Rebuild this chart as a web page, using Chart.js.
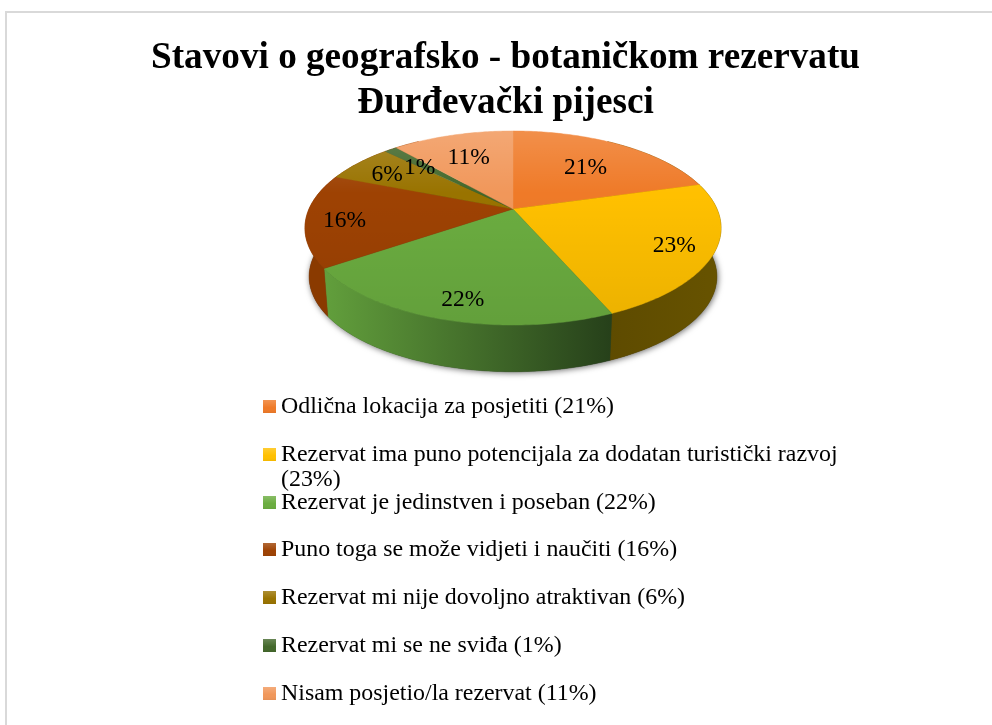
<!DOCTYPE html>
<html><head><meta charset="utf-8">
<script src="https://cdn.jsdelivr.net/npm/chart.js@4"></script>
<style>
html,body{margin:0;padding:0;background:#fff;overflow:hidden}
#wrap{position:absolute;left:0;top:0;width:992px;height:725px}
#frame{position:absolute;left:5px;top:11px;right:0;bottom:0;border-left:2px solid #d9d9d9;border-top:2px solid #d9d9d9}
canvas{position:absolute;left:0;top:0}
</style></head><body>
<div id="wrap"><div id="frame"></div><canvas id="c" width="992" height="725"></canvas></div>
<script>
const titleLines = ['Stavovi o geografsko - botaničkom rezervatu', 'Đurđevački pijesci'];
const categories = ['Odlična lokacija za posjetiti','Rezervat ima puno potencijala za dodatan turistički razvoj','Rezervat je jedinstven i poseban','Puno toga se može vidjeti i naučiti','Rezervat mi nije dovoljno atraktivan','Rezervat mi se ne sviđa','Nisam posjetio/la rezervat'];
const values = [20.6,22.9,21.9,15.6,6.4,1.2,11.4];
const sliceColors = ['#EF7A28','#FFC000','#6BAD40','#9E4203','#997300','#43682B','#F1975A'];
const wallLeft  = ['#6b5500','#5e4b00','#629f3c','#8a3a00','#8a3a00','#8a3a00','#8a3a00'];
const wallRight = ['#6b5500','#675300','#26401a','#8a3a00','#8a3a00','#8a3a00','#8a3a00'];
const labelRadius = [0.65,0.82,0.84,0.83,0.8,0.74,0.7];
const labelNudgeX = [0,-1,6,3,0,0,0];
const labelNudgeY = [3,2,1,3,3,4,3];

const FONT = '"Liberation Serif","Times New Roman",serif';
const P = {cx:513, cy:209, a:204, b:93.3, p:0.196, cy2:258, k:0.98};
const proj = (r,ang,bottom) => {
  const u=r*Math.cos(ang), v=r*Math.sin(ang), d=1-P.p*v, s=bottom?P.k:1;
  return [P.cx+s*P.a*u/d, (bottom?P.cy2:P.cy)+s*P.b*v/d];
};
const rim = (a0,a1,bottom) => {
  const n=Math.max(2,Math.ceil(Math.abs(a1-a0)/0.015)), out=[];
  for(let i=0;i<=n;i++) out.push(proj(1,a0+(a1-a0)*i/n,bottom));
  return out;
};
const trace = (ctx,pts,first) => pts.forEach((q,i)=> (i===0&&first)?ctx.moveTo(q[0],q[1]):ctx.lineTo(q[0],q[1]));

const pie3d = {
  id:'pie3d',
  beforeDatasetDraw(chart,args){
    const ctx=chart.ctx, arcs=chart.getDatasetMeta(args.index).data;
    ctx.save();
    // shadow
    ctx.save();
    ctx.shadowColor='rgba(0,0,0,0.6)'; ctx.shadowBlur=6; ctx.shadowOffsetX=1; ctx.shadowOffsetY=1;
    ctx.fillStyle='#333';
    ctx.beginPath(); trace(ctx,rim(0,Math.PI*2,true),true); ctx.closePath(); ctx.fill();
    ctx.restore();
    // outer walls
    const visA=-1, visB=Math.PI+1;
    arcs.forEach((el,i)=>{
      const s=Math.max(el.startAngle,visA), e=Math.min(el.endAngle,visB);
      if(e<=s) return;
      const top=rim(s,e,false), bot=rim(e,s,true);
      const xs=top.concat(bot).map(q=>q[0]);
      const g=ctx.createLinearGradient(Math.min(...xs),0,Math.max(...xs),0);
      g.addColorStop(0,wallLeft[i]); g.addColorStop(1,wallRight[i]);
      ctx.fillStyle=g; ctx.strokeStyle=g; ctx.lineWidth=0.5;
      ctx.beginPath(); trace(ctx,top,true); trace(ctx,bot,false); ctx.closePath(); ctx.fill(); ctx.stroke();
    });
    // top face
    arcs.forEach(el=>{
      ctx.fillStyle=el.options.backgroundColor; ctx.strokeStyle=el.options.backgroundColor; ctx.lineWidth=0.4;
      ctx.beginPath(); ctx.moveTo(P.cx,P.cy); trace(ctx,rim(el.startAngle,el.endAngle,false),false); ctx.closePath(); ctx.fill(); ctx.stroke();
    });
    // light falling on the top face
    const sh=ctx.createLinearGradient(0,131,0,325);
    sh.addColorStop(0,'rgba(255,255,255,0.16)');
    sh.addColorStop(0.32,'rgba(255,255,255,0)');
    sh.addColorStop(0.33,'rgba(0,0,0,0)');
    sh.addColorStop(1,'rgba(0,0,0,0.08)');
    ctx.fillStyle=sh;
    ctx.beginPath(); trace(ctx,rim(0,Math.PI*2,false),true); ctx.closePath(); ctx.fill();
    // percent labels
    ctx.fillStyle='#000'; ctx.font='23.5px '+FONT; ctx.textAlign='center'; ctx.textBaseline='middle';
    arcs.forEach((el,i)=>{
      const mid=(el.startAngle+el.endAngle)/2, q=proj(labelRadius[i],mid,false);
      ctx.fillText(Math.round(values[i])+'%',q[0]+labelNudgeX[i],q[1]+labelNudgeY[i]);
    });
    ctx.restore();
    return false;
  }
};
const legend = {
  id:'rowLegend',
  afterDraw(chart){
    const ctx=chart.ctx, x0=263, tx=281, firstBase=413, pitch=47.8, lh=25, maxW=570;
    ctx.save();
    ctx.font='23.9px '+FONT; ctx.textAlign='left'; ctx.textBaseline='alphabetic';
    categories.forEach((c,i)=>{
      const base=firstBase+pitch*i, words=(c+' ('+Math.round(values[i])+'%)').split(' ');
      const sy=Math.round(base)-13;
      ctx.fillStyle=sliceColors[i];
      ctx.fillRect(x0,sy,13,13);
      const sh=ctx.createLinearGradient(0,sy,0,sy+13);
      sh.addColorStop(0,'rgba(255,255,255,0.2)'); sh.addColorStop(0.6,'rgba(255,255,255,0)'); sh.addColorStop(1,'rgba(0,0,0,0.05)');
      ctx.fillStyle=sh; ctx.fillRect(x0,sy,13,13);
      ctx.fillStyle='#000';
      let line='', y=base;
      words.forEach(w=>{
        const t=line?line+' '+w:w;
        if(ctx.measureText(t).width>maxW&&line){ctx.fillText(line,tx,y); y+=lh; line=w;} else line=t;
      });
      ctx.fillText(line,tx,y);
    });
    ctx.restore();
  }
};
new Chart(document.getElementById('c'),{
  type:'pie',
  data:{labels:categories,datasets:[{data:values,backgroundColor:sliceColors,borderWidth:0}]},
  plugins:[pie3d,legend],
  options:{
    responsive:false,animation:false,
    layout:{padding:{left:19,top:0,right:0,bottom:0}},
    plugins:{
      legend:{display:false},tooltip:{enabled:false},
      title:{display:true,text:titleLines,color:'#000',padding:{top:36,bottom:0},
        font:{family:FONT,size:37.2,weight:'bold',lineHeight:1.21}}
    }
  }
});
</script>
</body></html>
